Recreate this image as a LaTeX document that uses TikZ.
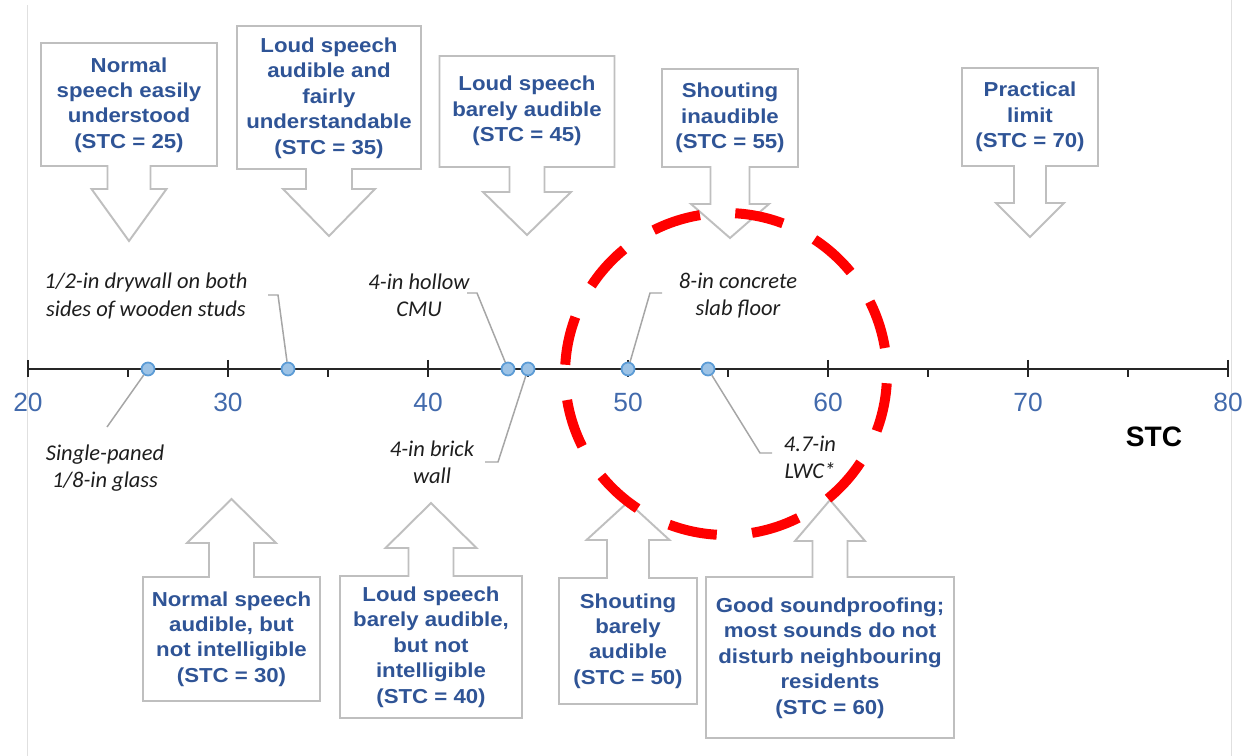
\documentclass[tikz,border=0pt]{standalone}
\usepackage{fontspec}
\newfontfamily\calloutfont[FakeStretch=1.1]{Liberation Sans}
\newfontfamily\axisfont{Liberation Sans}
\newfontfamily\notefont{Carlito}
\definecolor{stcblue}{RGB}{47,84,150}
\definecolor{numblue}{RGB}{66,106,172}
\definecolor{boxgray}{RGB}{191,191,191}
\definecolor{leadergray}{RGB}{166,166,166}
\definecolor{notegray}{RGB}{30,30,30}
\definecolor{dotfill}{RGB}{157,195,230}
\definecolor{dotline}{RGB}{91,155,213}
\tikzset{
  callout/.style={draw=boxgray, line width=1.1pt, fill=white, line join=miter},
  callouttext/.style={font=\calloutfont\bfseries\fontsize{11.5}{14.5}\selectfont, text=stcblue, align=center, inner sep=0pt},
  material/.style={font=\notefont\itshape\fontsize{12.8}{15.4}\selectfont, text=notegray, align=center, inner sep=0pt},
  leader/.style={draw=leadergray, line width=0.85pt},
  axisline/.style={draw=black!85, line width=1.5pt},
  axisnum/.style={font=\axisfont\fontsize{15}{17}\selectfont, text=numblue, inner sep=0pt},
  sample/.style={circle, draw=dotline, fill=dotfill, line width=1pt, minimum size=0.26cm, inner sep=0pt},
  redring/.style={draw=red, line width=0.2cm},
  edgeline/.style={draw=black!12, line width=0.5pt}
}
% box with a block arrow: centre x, half width, far edge, arrow edge,
% shaft half width, neck, head half width, tip
\newcommand{\callout}[8]{%
  \draw[callout] ({#1-#2},#3) -- ({#1+#2},#3) -- ({#1+#2},#4) -- ({#1+#5},#4)
    -- ({#1+#5},#6) -- ({#1+#7},#6) -- (#1,#8) -- ({#1-#7},#6) -- ({#1-#5},#6)
    -- ({#1-#5},#4) -- ({#1-#2},#4) -- cycle;}

\begin{document}
\begin{tikzpicture}[x=0.02cm, y=-0.02cm]
  \useasboundingbox (0,0) rectangle (1247,756);
  \draw[edgeline] (27,5) -- (27,756);
  \draw[edgeline] (1231,0) -- (1231,756);

  % STC axis
  \draw[axisline] (28,369) -- (1228,369);
  \foreach \v in {20,30,...,80} {
    \draw[axisline] ({28+20*(\v-20)},360) -- ({28+20*(\v-20)},377);
    \node[axisnum] (n\v) at ({28+20*(\v-20)},402) {\v};
  }
  \foreach \v in {25,35,...,75}
    \draw[axisline] ({28+20*(\v-20)},369) -- ({28+20*(\v-20)},377);
  \node[font=\axisfont\bfseries\fontsize{16}{18}\selectfont, inner sep=0pt] (stc) at (1154,437) {STC};

  % callouts above the axis
  \callout{129}{88}{43}{166}{21.5}{189}{37.5}{241}
  \node[callouttext] (c25) at (129,105) {Normal\\speech easily\\understood\\(STC = 25)};
  \callout{329}{92}{26}{169}{23}{189}{46}{236}
  \node[callouttext] (c35) at (329,98) {Loud speech\\audible and\\fairly\\understandable\\(STC = 35)};
  \callout{527}{87.5}{56}{167}{17.5}{192}{44}{235}
  \node[callouttext] (c45) at (527,111) {Loud speech\\barely audible\\(STC = 45)};
  \callout{730}{68}{69}{167}{19.5}{204}{39}{238}
  \node[callouttext] (c55) at (730,118) {Shouting\\inaudible\\(STC = 55)};
  \callout{1030}{68}{68}{166}{16}{203}{34}{237}
  \node[callouttext] (c70) at (1030,117) {Practical\\limit\\(STC = 70)};

  % callouts below the axis
  \callout{231.5}{88.5}{701}{577}{22.5}{543}{44.5}{499}
  \node[callouttext] (c30) at (231.5,639) {Normal speech\\audible, but\\not intelligible\\(STC = 30)};
  \callout{431}{91}{718}{576}{22.5}{548}{45.5}{503}
  \node[callouttext] (c40) at (431,647) {Loud speech\\barely audible,\\but not\\intelligible\\(STC = 40)};
  \callout{628}{69}{704}{578}{21}{540}{41.5}{502}
  \node[callouttext] (c50) at (628,641) {Shouting\\barely\\audible\\(STC = 50)};
  \callout{830}{124}{738}{577}{17.5}{541}{35}{500}
  \node[callouttext] (c60) at (830,658) {Good soundproofing;\\most sounds do not\\disturb neighbouring\\residents\\(STC = 60)};

  % materials on the axis
  \node[sample] (s26) at (148,369) {};
  \node[sample] (s33) at (288,369) {};
  \node[sample] (s44) at (508,369) {};
  \node[sample] (s45) at (528,369) {};
  \node[sample] (s50) at (628,369) {};
  \node[sample] (s54) at (708,369) {};

  \node[material] (m26) at (105,468) {Single-paned\\1/8-in glass};
  \node[material] (m33) at (146,296) {1/2-in drywall on both\\sides of wooden studs};
  \node[material] (m44) at (419,295) {4-in hollow\\CMU};
  \node[material] (m45) at (432,462) {4-in brick\\wall};
  \node[material] (m50) at (738,296) {8-in concrete\\slab floor};
  \node[material] (m54) at (810,457) {4.7-in\\LWC*};

  \coordinate (e26) at (107,427);
  \coordinate (e33) at (268,295);
  \coordinate (e44) at (467,293);
  \coordinate (e45) at (485,462);
  \coordinate (e50) at (662,293);
  \coordinate (e54) at (772,453);
  \draw[leader] (e26) -- (s26);
  \draw[leader] (e33) -- ++(10,0) -- (s33);
  \draw[leader] (e44) -- ++(10,0) -- (s44);
  \draw[leader] (e45) -- ++(13,0) -- (s45);
  \draw[leader] (e50) -- ++(-12,0) -- (s50);
  \draw[leader] (e54) -- ++(-12,0) -- (s54);

  % red dashed ring
  \foreach \a [evaluate=\a as \b using \a+17.4] in {3.3,33.3,...,333.3}
    \draw[redring] plot[domain=\a:\b, samples=12] ({726+161*cos(\x)},{374+161*sin(\x)});
\end{tikzpicture}
\end{document}
